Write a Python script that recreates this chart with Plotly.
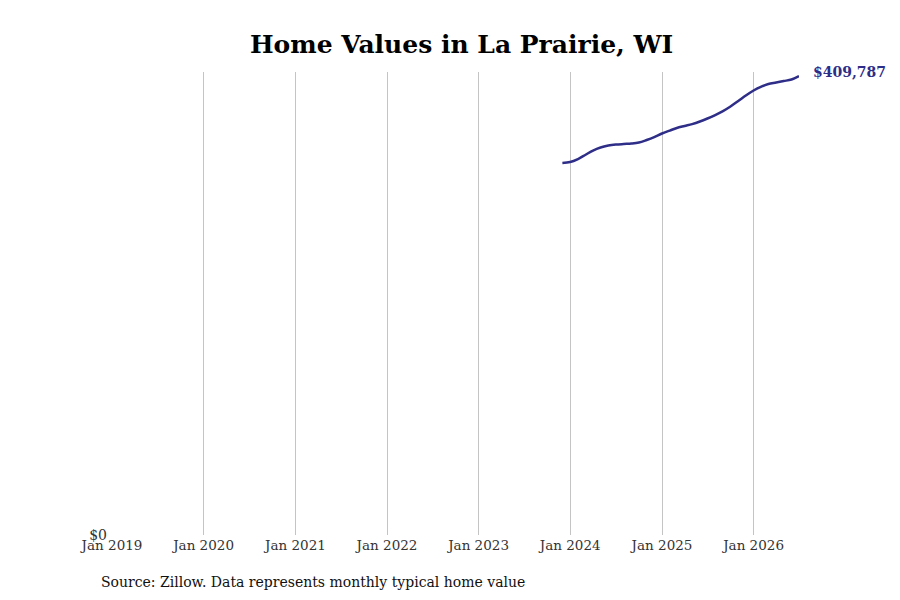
import plotly.graph_objects as go

dates = [
    "2023-12-01", "2024-01-01", "2024-02-01", "2024-03-01", "2024-04-01", "2024-05-01",
    "2024-06-01", "2024-07-01", "2024-08-01", "2024-09-01", "2024-10-01", "2024-11-01",
    "2024-12-01", "2025-01-01", "2025-02-01", "2025-03-01", "2025-04-01", "2025-05-01",
    "2025-06-01", "2025-07-01", "2025-08-01", "2025-09-01", "2025-10-01", "2025-11-01",
    "2025-12-01", "2026-01-01", "2026-02-01", "2026-03-01", "2026-04-01", "2026-05-01",
    "2026-06-01", "2026-07-01",
]
values = [
    332100, 333000, 335700, 339300, 343300, 346000,
    347700, 348600, 349100, 349500, 350400, 352700,
    355300, 358500, 361100, 363400, 365200, 366900,
    369200, 371900, 375000, 378500, 382600, 387500,
    392400, 396900, 400400, 402700, 404000, 405300,
    406700, 409787,
]
tick_dates = ["2019-01-01", "2020-01-01", "2021-01-01", "2022-01-01", "2023-01-01",
              "2024-01-01", "2025-01-01", "2026-01-01"]
tick_labels = ["Jan 2019", "Jan 2020", "Jan 2021", "Jan 2022", "Jan 2023",
               "Jan 2024", "Jan 2025", "Jan 2026"]

LINE = "#2e2d88"
FONT = "DejaVu Serif"

fig = go.Figure()
fig.add_trace(go.Scatter(
    x=dates, y=values, mode="lines",
    line=dict(color=LINE, width=2.5, shape="spline"),
    hoverinfo="x+y",
))
fig.add_annotation(
    x=dates[-1], y=values[-1], xref="x", yref="y",
    text="<b>${:,}</b>".format(values[-1]), showarrow=False,
    xanchor="left", yanchor="middle", xshift=12, yshift=4,
    font=dict(family=FONT, size=14, color=LINE),
)
fig.add_annotation(
    x=-0.0189, y=-0.1015, xref="paper", yref="paper",
    text="Source: Zillow. Data represents monthly typical home value",
    showarrow=False, xanchor="left", yanchor="middle",
    font=dict(family=FONT, size=14, color="#111111"),
)
fig.update_layout(
    width=900, height=600,
    margin=dict(l=104, r=109, t=64, b=73),
    paper_bgcolor="white", plot_bgcolor="white",
    title=dict(text="<b>Home Values in La Prairie, WI</b>", x=0.504, xanchor="center",
               y=0.94, yanchor="middle",
               font=dict(family=FONT, size=25, color="black")),
    showlegend=False,
    font=dict(family=FONT, size=14, color="#333333"),
)
fig.update_xaxes(
    range=["2019-01-01", "2026-07-01"],
    tickvals=tick_dates, ticktext=tick_labels,
    showgrid=True, gridcolor="#c4c4c4", gridwidth=1,
    showline=False, zeroline=False, ticks="",
    tickfont=dict(family=FONT, size=13.5, color="#333333"),
)
fig.update_yaxes(
    range=[0, 413400],
    tickvals=[0], ticktext=["$0"],
    showgrid=False, zeroline=False, showline=False, ticks="",
    ticklabelstandoff=4,
    tickfont=dict(family=FONT, size=14, color="#333333"),
)
fig.write_html("out.html")
